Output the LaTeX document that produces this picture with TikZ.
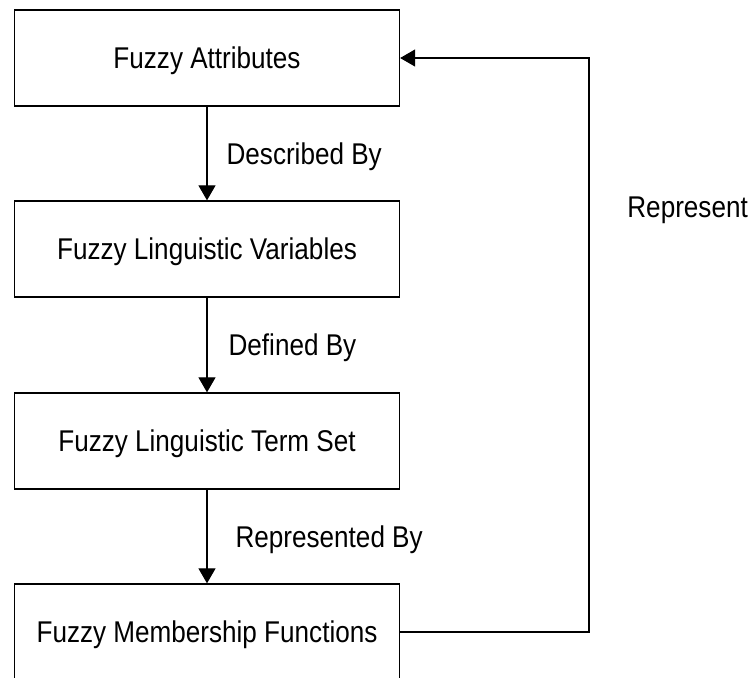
\documentclass[tikz,border=0pt]{standalone}
\usepackage{fontspec}
\setmainfont[FakeStretch=0.87]{Liberation Sans}
\usetikzlibrary{arrows.meta,positioning}

\begin{document}
\begin{tikzpicture}[x=0.5pt,y=-0.5pt,
    stage/.style={draw,line width=0.65pt,minimum width=192.5pt,minimum height=48pt,
      inner sep=0pt,text depth=0pt,font=\fontsize{15pt}{18pt}\selectfont},
    rel/.style={anchor=west,inner sep=0pt,text depth=0pt,font=\fontsize{15pt}{18pt}\selectfont},
    arr/.style={line width=0.6pt,-{Triangle[length=7.5pt,width=8.5pt]}}]
  \useasboundingbox (0,0) rectangle (752,677);
  \node[stage] (attr) at (207,58){Fuzzy Attributes};
  \node[stage] (ling) at (207,249){Fuzzy Linguistic Variables};
  \node[stage] (term) at (207,441){Fuzzy Linguistic Term Set};
  \node[stage] (memb) at (207,632){Fuzzy Membership Functions};
  \draw[arr] (attr) -- node[rel,xshift=9.5pt]{Described By} (ling);
  \draw[arr] (ling) -- node[rel,xshift=10.5pt]{Defined By} (term);
  \draw[arr] (term) -- node[rel,xshift=14pt]{Represented By} (memb);
  \coordinate (turn) at (589,632);
  \draw[arr] (memb.east) -- (turn) |- (attr.east);
  \node[rel] (back) at (627,207){Represent};
\end{tikzpicture}
\end{document}
